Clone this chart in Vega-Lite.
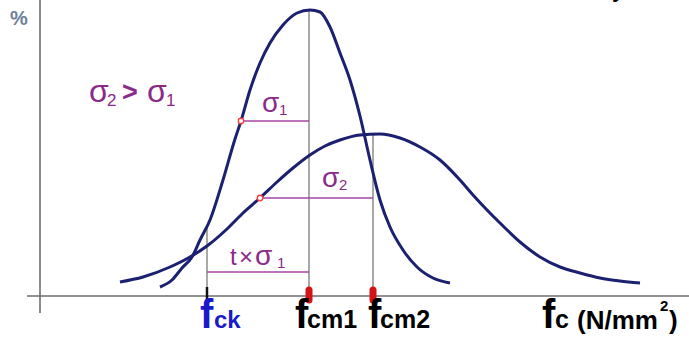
{
  "$schema": "https://vega.github.io/schema/vega-lite/v6.json",
  "width": 689,
  "height": 340,
  "autosize": "none",
  "padding": 0,
  "background": "white",
  "config": {"view": {"stroke": null}, "text": {"font": "Liberation Sans", "align": "left", "baseline": "alphabetic"}},
  "datasets": {
    "axes": [
      {"x": 40, "y": 296, "xe": 40, "ye": -17},
      {"x": 27, "y": 0, "xe": 689, "ye": 0}
    ],
    "guides": [
      {"x": 207, "y": 68, "xe": 207, "ye": 0},
      {"x": 309, "y": 286, "xe": 309, "ye": 0},
      {"x": 373, "y": 161, "xe": 373, "ye": 0}
    ],
    "spans": [
      {"x": 241, "y": 175, "xe": 309, "ye": 175},
      {"x": 260, "y": 98, "xe": 373, "ye": 98},
      {"x": 207, "y": 24, "xe": 309, "ye": 24}
    ],
    "curves": [
      {"curve": "s1", "x": 160, "y": 9}, {"curve": "s1", "x": 172, "y": 16}, {"curve": "s1", "x": 182, "y": 28},
      {"curve": "s1", "x": 192, "y": 39}, {"curve": "s1", "x": 200, "y": 56}, {"curve": "s1", "x": 210, "y": 76},
      {"curve": "s1", "x": 223, "y": 116}, {"curve": "s1", "x": 235, "y": 157}, {"curve": "s1", "x": 241, "y": 175},
      {"curve": "s1", "x": 250, "y": 206}, {"curve": "s1", "x": 260, "y": 233}, {"curve": "s1", "x": 270, "y": 253},
      {"curve": "s1", "x": 283, "y": 271}, {"curve": "s1", "x": 297, "y": 283}, {"curve": "s1", "x": 310, "y": 286},
      {"curve": "s1", "x": 320, "y": 284}, {"curve": "s1", "x": 330, "y": 269}, {"curve": "s1", "x": 340, "y": 243},
      {"curve": "s1", "x": 350, "y": 216}, {"curve": "s1", "x": 360, "y": 180}, {"curve": "s1", "x": 370, "y": 136},
      {"curve": "s1", "x": 380, "y": 96}, {"curve": "s1", "x": 390, "y": 69}, {"curve": "s1", "x": 403, "y": 46},
      {"curve": "s1", "x": 417, "y": 29}, {"curve": "s1", "x": 433, "y": 18}, {"curve": "s1", "x": 450, "y": 13},
      {"curve": "s2", "x": 120, "y": 14}, {"curve": "s2", "x": 143, "y": 19}, {"curve": "s2", "x": 170, "y": 29},
      {"curve": "s2", "x": 190, "y": 39}, {"curve": "s2", "x": 207, "y": 50}, {"curve": "s2", "x": 227, "y": 67},
      {"curve": "s2", "x": 243, "y": 83}, {"curve": "s2", "x": 260, "y": 98}, {"curve": "s2", "x": 277, "y": 114},
      {"curve": "s2", "x": 293, "y": 128}, {"curve": "s2", "x": 310, "y": 141}, {"curve": "s2", "x": 325, "y": 150},
      {"curve": "s2", "x": 340, "y": 156}, {"curve": "s2", "x": 360, "y": 161}, {"curve": "s2", "x": 380, "y": 162},
      {"curve": "s2", "x": 400, "y": 158}, {"curve": "s2", "x": 420, "y": 149}, {"curve": "s2", "x": 440, "y": 136},
      {"curve": "s2", "x": 460, "y": 116}, {"curve": "s2", "x": 473, "y": 101}, {"curve": "s2", "x": 487, "y": 86},
      {"curve": "s2", "x": 500, "y": 73}, {"curve": "s2", "x": 520, "y": 54}, {"curve": "s2", "x": 540, "y": 39},
      {"curve": "s2", "x": 560, "y": 29}, {"curve": "s2", "x": 580, "y": 23}, {"curve": "s2", "x": 600, "y": 18},
      {"curve": "s2", "x": 620, "y": 15}, {"curve": "s2", "x": 640, "y": 13}
    ],
    "marks": [
      {"x": 241, "y": 175},
      {"x": 260, "y": 98}
    ],
    "ticks": [
      {"kind": "fck", "x": 207, "y": 9, "xe": 207, "ye": -6},
      {"kind": "fcm", "x": 309, "y": 6, "xe": 309, "ye": -4},
      {"kind": "fcm", "x": 373, "y": 6, "xe": 373, "ye": -4}
    ]
  },
  "encoding": {
    "x": {"field": "x", "type": "quantitative", "scale": {"domain": [0, 689], "nice": false, "zero": false}, "axis": null},
    "y": {"field": "y", "type": "quantitative", "scale": {"domain": [-44, 296], "nice": false, "zero": false}, "axis": null}
  },
  "layer": [
    {
      "data": {"name": "axes"},
      "mark": {"type": "rule", "color": "#6e6e6e", "strokeWidth": 1.6},
      "encoding": {"x2": {"field": "xe"}, "y2": {"field": "ye"}}
    },
    {
      "data": {"name": "guides"},
      "mark": {"type": "rule", "color": "#7a7a7a", "strokeWidth": 1.3},
      "encoding": {"x2": {"field": "xe"}, "y2": {"field": "ye"}}
    },
    {
      "data": {"name": "spans"},
      "mark": {"type": "rule", "color": "#a545a5", "strokeWidth": 1.6},
      "encoding": {"x2": {"field": "xe"}, "y2": {"field": "ye"}}
    },
    {
      "data": {"name": "curves"},
      "mark": {"type": "line", "color": "#1b2070", "strokeWidth": 3, "interpolate": "monotone"},
      "encoding": {"detail": {"field": "curve"}}
    },
    {
      "data": {"name": "ticks"},
      "transform": [{"filter": "datum.kind === 'fck'"}],
      "mark": {"type": "rule", "color": "#111111", "strokeWidth": 2.5},
      "encoding": {"x2": {"field": "xe"}, "y2": {"field": "ye"}}
    },
    {
      "data": {"name": "ticks"},
      "transform": [{"filter": "datum.kind === 'fcm'"}],
      "mark": {"type": "rule", "color": "#d41414", "strokeWidth": 7, "strokeCap": "round"},
      "encoding": {"x2": {"field": "xe"}, "y2": {"field": "ye"}}
    },
    {
      "data": {"name": "marks"},
      "mark": {"type": "point", "shape": "circle", "filled": true, "fill": "white", "stroke": "#ff3b3b", "strokeWidth": 1.3, "size": 30, "opacity": 1}
    },
    {
      "data": {"values": [{"t": "σ", "x": 89, "y": 194}, {"t": "σ", "x": 147, "y": 194}]},
      "mark": {"type": "text", "fontSize": 32, "color": "#8a2a8a"},
      "encoding": {"text": {"field": "t"}}
    },
    {
      "data": {"values": [{"t": ">", "x": 122, "y": 195}]},
      "mark": {"type": "text", "fontSize": 27, "fontWeight": "bold", "color": "#8a2a8a"},
      "encoding": {"text": {"field": "t"}}
    },
    {
      "data": {"values": [{"t": "2", "x": 107, "y": 190}, {"t": "1", "x": 166, "y": 190}]},
      "mark": {"type": "text", "fontSize": 17, "color": "#8a2a8a"},
      "encoding": {"text": {"field": "t"}}
    },
    {
      "data": {"values": [{"t": "σ", "x": 262, "y": 184}, {"t": "σ", "x": 322, "y": 109}, {"t": "σ", "x": 255, "y": 31}]},
      "mark": {"type": "text", "fontSize": 28, "color": "#8a2a8a"},
      "encoding": {"text": {"field": "t"}}
    },
    {
      "data": {"values": [{"t": "t", "x": 230, "y": 31}, {"t": "×", "x": 239, "y": 31}]},
      "mark": {"type": "text", "fontSize": 24, "color": "#8a2a8a"},
      "encoding": {"text": {"field": "t"}}
    },
    {
      "data": {"values": [{"t": "1", "x": 279, "y": 181}, {"t": "2", "x": 339, "y": 106}, {"t": "1", "x": 277, "y": 28}]},
      "mark": {"type": "text", "fontSize": 15, "color": "#8a2a8a"},
      "encoding": {"text": {"field": "t"}}
    },
    {
      "data": {"values": [{"t": "f", "x": 200, "y": -32}]},
      "mark": {"type": "text", "fontSize": 40, "fontWeight": "bold", "color": "#1a1ac8"},
      "encoding": {"text": {"field": "t"}}
    },
    {
      "data": {"values": [{"t": "ck", "x": 214, "y": -32}]},
      "mark": {"type": "text", "fontSize": 24, "fontWeight": "bold", "color": "#1a1ac8"},
      "encoding": {"text": {"field": "t"}}
    },
    {
      "data": {"values": [{"t": "f", "x": 295, "y": -32}, {"t": "f", "x": 368, "y": -32}, {"t": "f", "x": 542, "y": -32}]},
      "mark": {"type": "text", "fontSize": 40, "fontWeight": "bold", "color": "#000000"},
      "encoding": {"text": {"field": "t"}}
    },
    {
      "data": {"values": [{"t": "cm1", "x": 307, "y": -32}, {"t": "cm2", "x": 380, "y": -32}, {"t": "c", "x": 555, "y": -32}]},
      "mark": {"type": "text", "fontSize": 25, "fontWeight": "bold", "color": "#000000"},
      "encoding": {"text": {"field": "t"}}
    },
    {
      "data": {"values": [{"t": "(N/mm", "x": 577, "y": -33}, {"t": ")", "x": 669, "y": -33}]},
      "mark": {"type": "text", "fontSize": 26, "fontWeight": "bold", "color": "#000000"},
      "encoding": {"text": {"field": "t"}}
    },
    {
      "data": {"values": [{"t": "2", "x": 660, "y": -15}]},
      "mark": {"type": "text", "fontSize": 15, "fontWeight": "bold", "color": "#000000"},
      "encoding": {"text": {"field": "t"}}
    },
    {
      "data": {"values": [{"t": "%", "x": 10, "y": 271}]},
      "mark": {"type": "text", "fontSize": 20, "fontWeight": "bold", "color": "#6b7f99"},
      "encoding": {"text": {"field": "t"}}
    },
    {
      "data": {"values": [{"t": "y", "x": 612, "y": 299}]},
      "mark": {"type": "text", "fontSize": 22, "fontWeight": "bold", "color": "#000000"},
      "encoding": {"text": {"field": "t"}}
    }
  ]
}
